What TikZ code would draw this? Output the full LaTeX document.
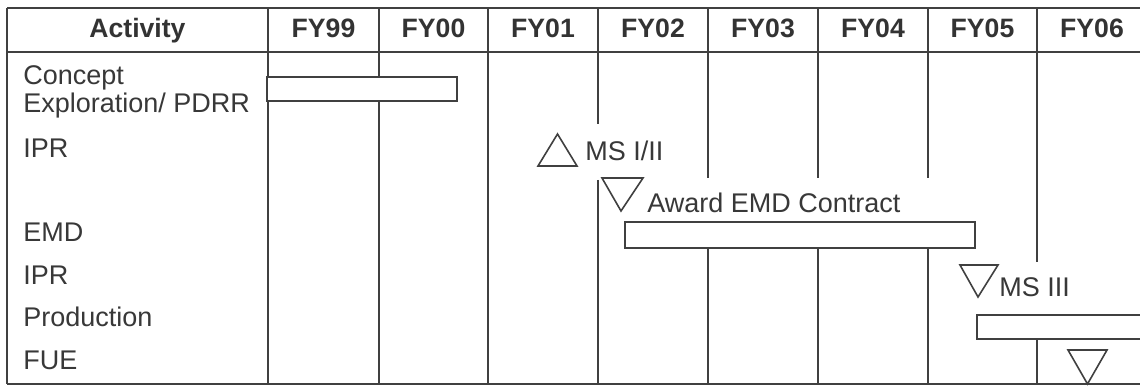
\documentclass[tikz,border=0pt]{standalone}
\usepackage{fontspec}
\setmainfont{Liberation Sans}
\begin{document}
\begin{tikzpicture}[x=0.5pt,y=-0.5pt,
  grid/.style={draw=black!75, line width=1pt},
  bar/.style={draw=black!75, line width=1pt, fill=white, rectangle, inner sep=0pt, outer sep=0pt, anchor=north west},
  ms/.style={draw=black!75, line width=0.8pt, line join=miter},
  hdr/.style={anchor=base, inner sep=0pt, text=black!80, font=\fontsize{13.3}{16}\selectfont\bfseries},
  lbl/.style={anchor=base west, inner sep=0pt, text=black!78, font=\fontsize{13.5}{16}\selectfont}]
\useasboundingbox[fill=white] (0,0) rectangle (1140,389);
\begin{scope}
\clip (0,0) rectangle (1140,389);
% grid
\draw[grid] (7,8) -- (1140,8);
\draw[grid] (7,52) -- (1140,52);
\draw[grid] (7,384) -- (1140,384);
\draw[grid] (7,8) -- (7,384);
\draw[grid] (268,8) -- (268,384);
\draw[grid] (379,8) -- (379,384);
\draw[grid] (488,8) -- (488,384);
\draw[grid] (598,8) -- (598,124);
\draw[grid] (598,180) -- (598,384);
\foreach \x in {708,818,928}{
  \draw[grid] (\x,8) -- (\x,178);
  \draw[grid] (\x,248) -- (\x,384);
}
\draw[grid] (1037,8) -- (1037,262);
\draw[grid] (1037,339) -- (1037,384);
% bars
\node[bar, minimum width=95pt, minimum height=12pt] (cebar) at (267,77) {};
\node[bar, minimum width=175pt, minimum height=13pt] (emdbar) at (625,222) {};
\node[bar, minimum width=95pt, minimum height=12pt] (prodbar) at (977,315) {};
\end{scope}
% header
\node[hdr] (hact) at (137.5,38) {Activity};
\node[hdr] (h99) at (323.5,38) {FY99};
\node[hdr] (h00) at (433.5,38) {FY00};
\node[hdr] (h01) at (543,38) {FY01};
\node[hdr] (h02) at (653,38) {FY02};
\node[hdr] (h03) at (763,38) {FY03};
\node[hdr] (h04) at (873,38) {FY04};
\node[hdr] (h05) at (982.5,38) {FY05};
\node[hdr] (h06) at (1092,38) {FY06};
% activity labels
\node[lbl] (a1) at (23,85) {Concept};
\node[lbl] (a2) at (23,113) {Exploration/ PDRR};
\node[lbl] (a3) at (23,158) {IPR};
\node[lbl] (a4) at (23,242) {EMD};
\node[lbl] (a5) at (23,285) {IPR};
\node[lbl] (a6) at (23,327) {Production};
\node[lbl] (a7) at (23,370) {FUE};
% milestones
\draw[ms] (538,166) -- (577,166) -- (557.5,134) -- cycle;
\node[lbl] (m1) at (585,161) {MS I/II};
\draw[ms] (602,178) -- (643,178) -- (621,211) -- cycle;
\node[lbl] (m2) at (647,213) {Award EMD Contract};
\draw[ms] (960,265) -- (998,265) -- (978,297) -- cycle;
\node[lbl] (m3) at (999,297) {MS III};
\draw[ms] (1068,350) -- (1107,350) -- (1087.5,384) -- cycle;
\end{tikzpicture}
\end{document}
